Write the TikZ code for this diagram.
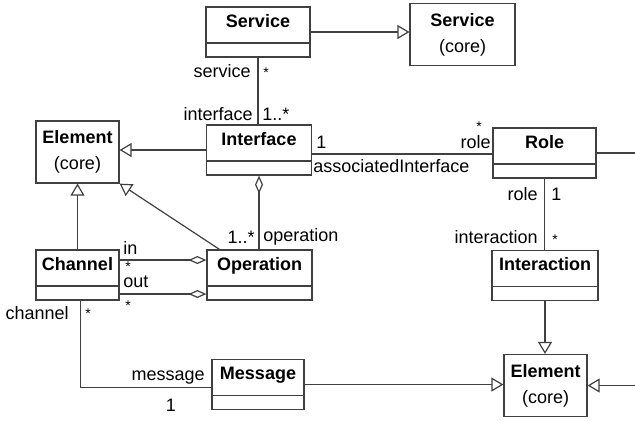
\documentclass[tikz,border=0pt]{standalone}
\usepackage{fontspec}
\setmainfont{Liberation Sans}
\usetikzlibrary{arrows.meta}
\definecolor{linecol}{RGB}{64,64,64}
\begin{document}
\begin{tikzpicture}[
       x=0.5pt, y=-0.5pt,
       font=\fontsize{9}{11}\selectfont,
       umlclass/.style={draw=linecol, line width=0.6pt, fill=white, font=\fontsize{9}{11}\selectfont\bfseries,
           minimum height=25pt, inner sep=0pt, text height=10pt, text depth=15pt,
           path picture={\draw[linecol, line width=0.6pt] ([yshift=7pt]path picture bounding box.south west)
               -- ([yshift=7pt]path picture bounding box.south east);}},
       core/.style={draw=linecol, line width=0.6pt, fill=white, align=center, inner sep=0pt,
           minimum height=31pt, font=\fontsize{9}{13}\selectfont},
       endtxt/.style={inner sep=0pt},
       star/.style={inner sep=0pt, font=\fontsize{7}{8}\selectfont},
       assoc/.style={draw=linecol, line width=0.6pt},
       inherit/.style={assoc, -{Triangle[open, length=6pt, width=7pt, fill=white]}},
       aggr/.style={assoc, {Diamond[open, length=9pt, width=4pt, fill=white]}-}
   ]

   \useasboundingbox (0,0) rectangle (635,420);

   \foreach \name/\txt/\x/\y/\w in {service/Service/258/32/52pt, interface/Interface/259/150/52.5pt,
       channel/Channel/77.5/275/41.5pt, operation/Operation/259.5/275/52.5pt,
       message/Message/258/384.5/46pt, role/Role/544.5/153/51.5pt,
       interaction/Interaction/545/275.5/53pt} {
       \node[umlclass, minimum width=\w] (\name) at (\x,\y) {\txt};
   }

   \node[core, minimum width=52.5pt] (servicecore) at (462.5,34.5) {\textbf{Service}\\(core)};
   \node[core, minimum width=41.5pt] (elemleft) at (77.5,152) {\textbf{Element}\\(core)};
   \node[core, minimum width=41.5pt] (elemright) at (545.5,385.5) {\textbf{Element}\\(core)};

   \coordinate (roleout) at (635,153);
   \coordinate (elemin) at (635,385.5);

   \draw[inherit] (service.east) -- (service.east -| servicecore.west);
   \draw[assoc] (service.south) -- (service.south |- interface.north);
   \draw[inherit] (interface.west) -- (interface.west -| elemleft.east);
   \draw[aggr] (interface.south) -- (interface.south |- operation.north);
   \draw[inherit] ([xshift=-20pt]operation.north) -- (elemleft.south east);
   \draw[inherit] (channel.north) -- (elemleft.south);
   \draw[aggr] ([yshift=7.5pt]operation.west) -- ([yshift=7.5pt]channel.east);
   \draw[aggr] ([yshift=-9.5pt]operation.west) -- ([yshift=-9.5pt]channel.east);
   \draw[assoc] ([xshift=1.5pt]channel.south) |- ([yshift=-1.5pt]message.west);
   \draw[inherit] (message.east) -- (message.east -| elemright.west);
   \draw[assoc] ([yshift=-2pt]interface.east) -- ([yshift=-2pt]interface.east -| role.west);
   \draw[assoc] (role.south) -- (role.south |- interaction.north);
   \draw[inherit] (interaction.south) -- (interaction.south |- elemright.north);
   \draw[assoc] (role.east) -- (roleout);
   \draw[inherit] (elemin) -- (elemright.east);

   \node[endtxt, anchor=east] (svcname) at (251,71) {service};
   \node[star] (svcmult) at (266,73) {*};
   \node[endtxt, anchor=east] (ifname) at (253,114) {interface};
   \node[endtxt, anchor=west] (ifmult) at (262,114) {1..*};
   \node[endtxt, anchor=west] (assocmult) at (316,142) {1};
   \node[endtxt, anchor=west] (assocname) at (313,166) {associatedInterface};
   \node[endtxt, anchor=east] (rolename) at (491,142) {role};
   \node[star] (rolemult) at (479,127) {*};
   \node[endtxt, anchor=east] (rolename2) at (538,194) {role};
   \node[endtxt, anchor=west] (rolemult2) at (551,194) {1};
   \node[endtxt, anchor=east] (intname) at (538,237) {interaction};
   \node[star] (intmult) at (555,240) {*};
   \node[endtxt, anchor=east] (opmult) at (255,237) {1..*};
   \node[endtxt, anchor=west] (opname) at (263,237) {operation};
   \node[endtxt, anchor=west] (inname) at (123,248) {in};
   \node[star] (inmult) at (128,267) {*};
   \node[endtxt, anchor=west] (outname) at (123,282) {out};
   \node[star] (outmult) at (128,306) {*};
   \node[endtxt, anchor=east] (chname) at (69,313) {channel};
   \node[star] (chmult) at (88,314) {*};
   \node[endtxt, anchor=east] (msgname) at (205,378) {message};
   \node[endtxt] (msgmult) at (171,405) {1};
\end{tikzpicture}
\end{document}
